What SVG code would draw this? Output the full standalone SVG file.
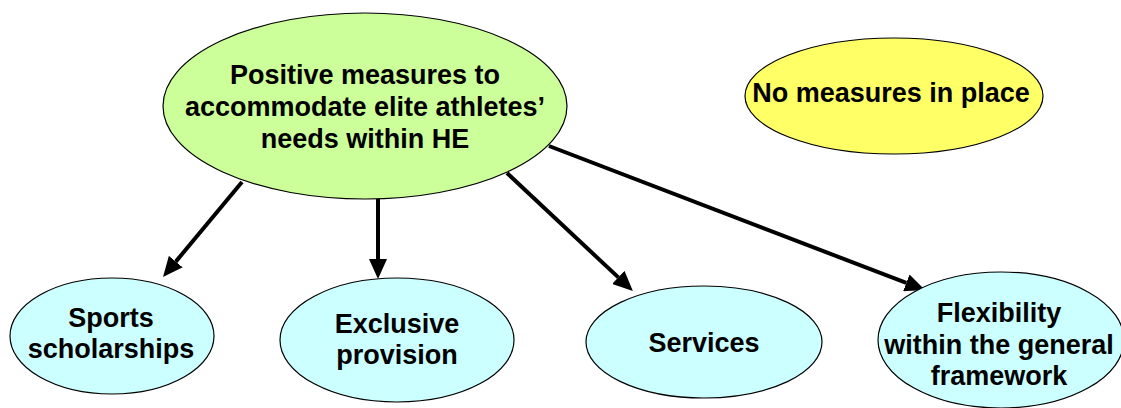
<svg xmlns="http://www.w3.org/2000/svg" width="1121" height="408" viewBox="0 0 1121 408">
  <style>
    .node { stroke: #000000; stroke-width: 1.2; }
    .main { fill: #CCFF99; }
    .none { fill: #FFFF66; }
    .kind { fill: #CCFFFF; }
    .label { font-family: "Liberation Sans", Arial, sans-serif; font-weight: bold; font-size: 27px; fill: #000000; text-anchor: middle; }
    .edge { stroke: #000000; stroke-width: 4; fill: none; marker-end: url(#head); }
  </style>
  <defs>
    <marker id="head" markerUnits="userSpaceOnUse" markerWidth="20" markerHeight="18" refX="0" refY="9" orient="auto">
      <path d="M0,0 L20,9 L0,18 Z" fill="#000000"/>
    </marker>
  </defs>
  <rect width="1121" height="408" fill="#FFFFFF"/>

  <!-- connectors: lines stop at the arrowhead base, the marker supplies the tip -->
  <g id="connectors">
    <line class="edge" x1="242" y1="182" x2="175.8" y2="261.6"/>
    <line class="edge" x1="378" y1="199" x2="378" y2="259"/>
    <line class="edge" x1="507" y1="173" x2="618.3" y2="277.4"/>
    <line class="edge" x1="549" y1="146" x2="906.3" y2="282.9"/>
  </g>

  <g id="node-positive">
    <ellipse class="node main" cx="365" cy="106" rx="202" ry="93"/>
    <text class="label" x="365" y="84">Positive measures to</text>
    <text class="label" x="365" y="116">accommodate elite athletes’</text>
    <text class="label" x="365" y="148">needs within HE</text>
  </g>

  <g id="node-none">
    <ellipse class="node none" cx="894" cy="96" rx="149" ry="58"/>
    <text class="label" x="891" y="102">No measures in place</text>
  </g>

  <g id="node-scholarships">
    <ellipse class="node kind" cx="112" cy="336" rx="102" ry="58"/>
    <text class="label" x="111" y="327">Sports</text>
    <text class="label" x="111" y="358">scholarships</text>
  </g>

  <g id="node-exclusive">
    <ellipse class="node kind" cx="397" cy="340" rx="117" ry="62"/>
    <text class="label" x="397" y="333">Exclusive</text>
    <text class="label" x="397" y="364">provision</text>
  </g>

  <g id="node-services">
    <ellipse class="node kind" cx="704" cy="342" rx="118" ry="56"/>
    <text class="label" x="704" y="352">Services</text>
  </g>

  <g id="node-flexibility">
    <ellipse class="node kind" cx="1001" cy="340" rx="123" ry="68"/>
    <text class="label" x="999" y="322">Flexibility</text>
    <text class="label" x="999" y="354">within the general</text>
    <text class="label" x="999" y="385">framework</text>
  </g>
</svg>
